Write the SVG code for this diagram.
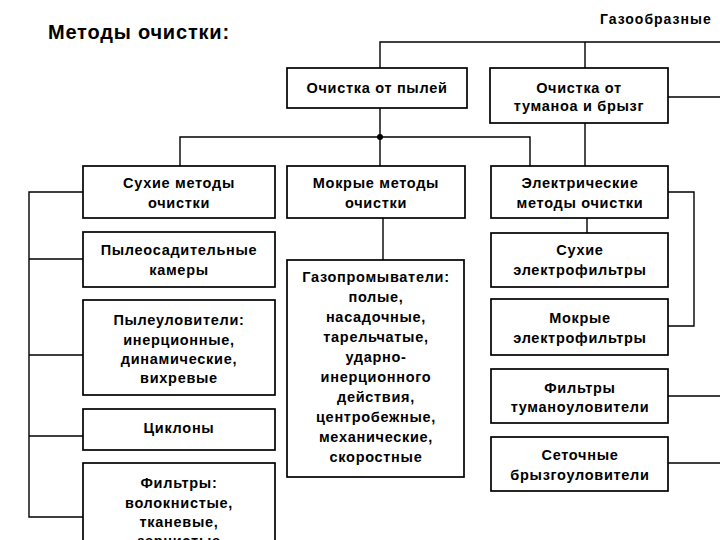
<svg xmlns="http://www.w3.org/2000/svg" width="720" height="540" viewBox="0 0 720 540">
<style>
.box{fill:#fff;stroke:#000;stroke-width:1.7}
.ln{fill:none;stroke:#000;stroke-width:1.4}
text{font-family:"Liberation Sans",Arial,sans-serif;font-weight:bold;font-size:14.5px;letter-spacing:0.7px;text-anchor:middle;fill:#000}
.title{font-size:20px;letter-spacing:0.8px;text-anchor:start}
.hdr{font-size:14px;letter-spacing:1px;text-anchor:start}
</style>
<rect width="720" height="540" fill="#fff"/>
<text class="title" x="48" y="39">Методы  очистки:</text>
<text class="hdr" x="600" y="24">Газообразные</text>
<g id="connectors">
<path class="ln" d="M380,68 V42 H720 M585,42 V68 M668,97 H720"/>
<path class="ln" d="M380,108 V167 M180,167 V137 H530 V167 M585,123 V167"/>
<circle cx="380" cy="137" r="3"/>
<path class="ln" d="M383,218 V260"/>
<path class="ln" d="M587,218 V233 M668,192 H694 V326 H668"/>
<path class="ln" d="M668,396 H720 M668,463 H720"/>
<path class="ln" d="M83,192 H29 V517 H83 M29,259 H83 M29,355 H83 M29,436 H83"/>
</g>
<g id="n-dust"><rect class="box" x="287" y="68" width="180" height="40"/><text x="377" y="93">Очистка от пылей</text></g>
<g id="n-fog"><rect class="box" x="490" y="68" width="178" height="55"/><text x="579" y="93">Очистка от</text><text x="579" y="111">туманоа и брызг</text></g>
<g id="n-dry"><rect class="box" x="83" y="166" width="192" height="52"/><text x="179" y="188">Сухие методы</text><text x="179" y="208">очистки</text></g>
<g id="n-wet"><rect class="box" x="287" y="166" width="178" height="52"/><text x="376" y="188">Мокрые методы</text><text x="376" y="208">очистки</text></g>
<g id="n-el"><rect class="box" x="491" y="166" width="177" height="52"/><text x="580" y="188">Электрические</text><text x="580" y="208">методы очистки</text></g>
<g id="n-cham"><rect class="box" x="83" y="232" width="192" height="55"/><text x="179" y="255">Пылеосадительные</text><text x="179" y="275">камеры</text></g>
<g id="n-coll"><rect class="box" x="83" y="300" width="192" height="95"/><text x="179" y="325">Пылеуловители:</text><text x="179" y="345">инерционные,</text><text x="179" y="364">динамические,</text><text x="179" y="383">вихревые</text></g>
<g id="n-cyc"><rect class="box" x="83" y="409" width="192" height="41"/><text x="179" y="433">Циклоны</text></g>
<g id="n-filt"><rect class="box" x="83" y="463" width="192" height="90"/><text x="179" y="488">Фильтры:</text><text x="179" y="508">волокнистые,</text><text x="179" y="527">тканевые,</text><text x="179" y="546">зернистые</text></g>
<g id="n-gas"><rect class="box" x="287" y="260" width="177" height="217"/>
<text x="376" y="282">Газопромыватели:</text><text x="376" y="302">полые,</text><text x="376" y="322">насадочные,</text><text x="376" y="342">тарельчатые,</text><text x="376" y="362">ударно-</text><text x="376" y="382">инерционного</text><text x="376" y="402">действия,</text><text x="376" y="422">центробежные,</text><text x="376" y="442">механические,</text><text x="376" y="462">скоростные</text></g>
<g id="n-dryel"><rect class="box" x="491" y="233" width="177" height="54"/><text x="580" y="255">Сухие</text><text x="580" y="275">электрофильтры</text></g>
<g id="n-wetel"><rect class="box" x="491" y="299" width="177" height="56"/><text x="580" y="323">Мокрые</text><text x="580" y="343">электрофильтры</text></g>
<g id="n-fogf"><rect class="box" x="491" y="369" width="177" height="54"/><text x="580" y="393">Фильтры</text><text x="580" y="412">туманоуловители</text></g>
<g id="n-mesh"><rect class="box" x="491" y="437" width="177" height="54"/><text x="580" y="460">Сеточные</text><text x="580" y="480">брызгоуловители</text></g>
</svg>
